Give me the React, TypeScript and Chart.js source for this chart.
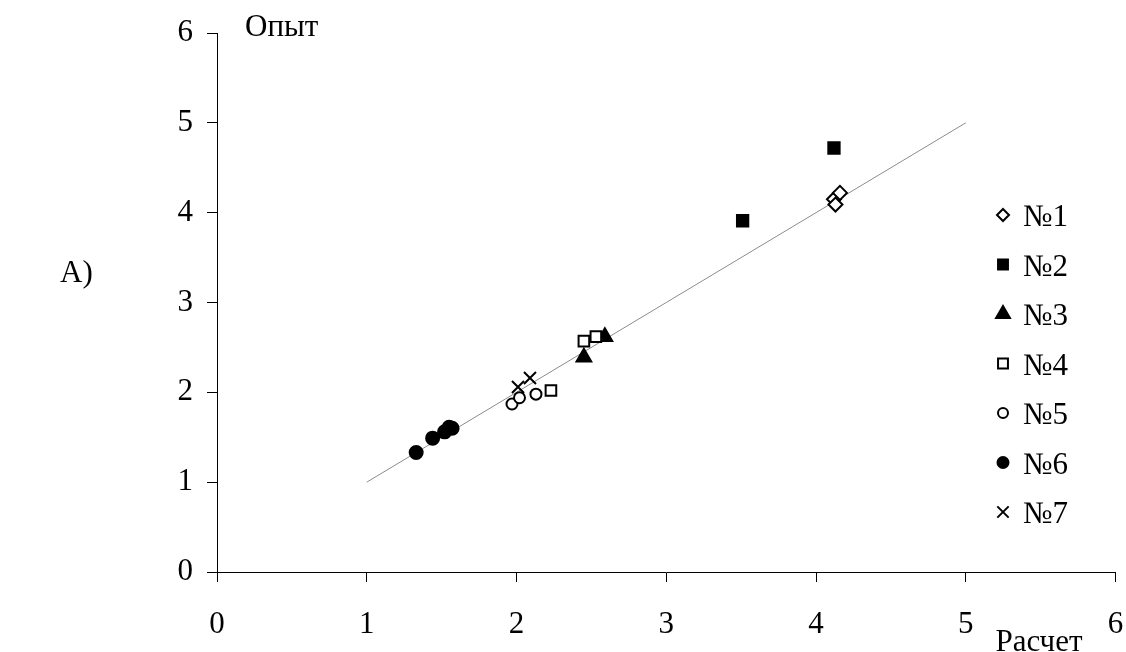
import React, { useEffect, useRef } from "react";
import { Chart, registerables } from "chart.js";
Chart.register(...registerables);

const seriesLabels = ["№1", "№2", "№3", "№4", "№5", "№6", "№7"];
const s1X = [4.12, 4.13, 4.16];
const s1Y = [4.15, 4.09, 4.22];
const s2X = [3.51, 4.12];
const s2Y = [3.91, 4.72];
const s3X = [2.45, 2.59];
const s3Y = [2.39, 2.62];
const s4X = [2.45, 2.53, 2.23];
const s4Y = [2.57, 2.62, 2.02];
const s5X = [1.97, 2.02, 2.13];
const s5Y = [1.87, 1.94, 1.98];
const s6X = [1.33, 1.44, 1.52, 1.55, 1.57];
const s6Y = [1.33, 1.49, 1.56, 1.61, 1.6];
const s7X = [2.01, 2.09];
const s7Y = [2.06, 2.16];
const lineX = [1, 5];
const lineY = [1, 5];
const axisMin = 0;
const axisMax = 6;
const yTitle = "Опыт";
const xTitle = "Расчет";
const panelLabel = "А)";

const FONT = "'Liberation Serif', 'Times New Roman', serif";
const FS = 31;

const pts = (xs: number[], ys: number[]) => xs.map((x, i) => ({ x, y: ys[i] }));

type Mk = { style: string; fill: string; r: number; lr: number };
const markers: Mk[] = [
  { style: "rectRot", fill: "#ffffff", r: 7, lr: 6 },
  { style: "rect", fill: "#000000", r: 8, lr: 7 },
  { style: "triangle", fill: "#000000", r: 8.5, lr: 8 },
  { style: "rect", fill: "#ffffff", r: 7.5, lr: 7 },
  { style: "circle", fill: "#ffffff", r: 5.5, lr: 5 },
  { style: "circle", fill: "#000000", r: 6.5, lr: 5.5 },
  { style: "crossRot", fill: "#000000", r: 8.5, lr: 8 },
];

function drawMarker(ctx: CanvasRenderingContext2D, m: Mk, x: number, y: number, r: number) {
  ctx.save();
  ctx.lineWidth = 2;
  ctx.strokeStyle = "#000";
  ctx.fillStyle = m.fill;
  ctx.beginPath();
  if (m.style === "rectRot") {
    ctx.moveTo(x, y - r);
    ctx.lineTo(x + r, y);
    ctx.lineTo(x, y + r);
    ctx.lineTo(x - r, y);
    ctx.closePath();
    ctx.fill();
    ctx.stroke();
  } else if (m.style === "rect") {
    const s = r * Math.SQRT1_2;
    ctx.rect(x - s, y - s, 2 * s, 2 * s);
    ctx.fill();
    ctx.stroke();
  } else if (m.style === "triangle") {
    for (let k = 0; k < 3; k++) {
      const a = (k * 2 * Math.PI) / 3;
      const px = x + Math.sin(a) * r;
      const py = y - Math.cos(a) * r;
      if (k === 0) ctx.moveTo(px, py);
      else ctx.lineTo(px, py);
    }
    ctx.closePath();
    ctx.fill();
    ctx.stroke();
  } else if (m.style === "circle") {
    ctx.arc(x, y, r, 0, Math.PI * 2);
    ctx.fill();
    ctx.stroke();
  } else {
    const o = r * Math.SQRT1_2;
    ctx.moveTo(x - o, y - o);
    ctx.lineTo(x + o, y + o);
    ctx.moveTo(x + o, y - o);
    ctx.lineTo(x - o, y + o);
    ctx.stroke();
  }
  ctx.restore();
}

const overlayPlugin = {
  id: "overlay",
  afterDraw(chart: any) {
    const ctx: CanvasRenderingContext2D = chart.ctx;
    ctx.save();
    ctx.fillStyle = "#000";
    ctx.font = `${FS}px ${FONT}`;
    ctx.textBaseline = "alphabetic";
    ctx.textAlign = "left";
    ctx.fillText(yTitle, 245, 36);
    ctx.fillText(panelLabel, 60, 282);
    ctx.textAlign = "center";
    ctx.fillText(xTitle, 1039, 651);
    // legend
    ctx.textAlign = "left";
    seriesLabels.forEach((lab, i) => {
      const y = 215 + i * 49.5;
      drawMarker(ctx, markers[i], 1003, y, markers[i].lr);
      ctx.fillStyle = "#000";
      ctx.fillText(lab, 1023, y + 11);
    });
    ctx.restore();
  },
};

export default function App() {
  const ref = useRef<HTMLCanvasElement | null>(null);
  useEffect(() => {
    if (!ref.current) return;
    const series = [
      pts(s1X, s1Y),
      pts(s2X, s2Y),
      pts(s3X, s3Y),
      pts(s4X, s4Y),
      pts(s5X, s5Y),
      pts(s6X, s6Y),
      pts(s7X, s7Y),
    ];
    const datasets: any[] = series.map((d, i) => ({
      type: "scatter",
      label: seriesLabels[i],
      data: d,
      pointStyle: markers[i].style,
      pointRadius: markers[i].r,
      pointBackgroundColor: markers[i].fill,
      pointBorderColor: "#000",
      pointBorderWidth: 2,
      order: 7 - i,
    }));
    datasets.push({
      type: "line",
      label: "line",
      data: pts(lineX, lineY),
      borderColor: "#8c8c8c",
      borderWidth: 1,
      pointRadius: 0,
      fill: false,
      order: 20,
    });
    const tickFont = { family: FONT, size: FS };
    const chart = new Chart(ref.current, {
      type: "scatter",
      data: { datasets },
      options: {
        animation: false,
        responsive: false,
        devicePixelRatio: 1,
        layout: { padding: { top: 33, right: 9, left: 0, bottom: 0 } },
        plugins: { legend: { display: false }, tooltip: { enabled: false } },
        scales: {
          x: {
            type: "linear",
            min: axisMin,
            max: axisMax,
            ticks: { stepSize: 1, color: "#000", font: tickFont, padding: 24, maxRotation: 0 },
            grid: { drawOnChartArea: false, drawTicks: true, tickLength: 10, color: "#000", lineWidth: 1 },
            border: { color: "#000", width: 1 },
            afterFit: (s: any) => {
              s.height = 80;
              s.paddingLeft = 0;
              s.paddingRight = 0;
            },
          },
          y: {
            type: "linear",
            min: axisMin,
            max: axisMax,
            ticks: { stepSize: 1, color: "#000", font: tickFont, padding: 14 },
            grid: { drawOnChartArea: false, drawTicks: true, tickLength: 10, color: "#000", lineWidth: 1 },
            border: { color: "#000", width: 1 },
            afterFit: (s: any) => {
              s.width = 217;
              s.paddingTop = 0;
              s.paddingBottom = 0;
            },
          },
        },
      } as any,
      plugins: [overlayPlugin],
    });
    return () => chart.destroy();
  }, []);
  return (
    <div style={{ position: "fixed", left: 0, top: 0, width: 1126, height: 652, background: "#fff" }}>
      <canvas ref={ref} width={1126} height={652} style={{ width: 1126, height: 652 }} />
    </div>
  );
}
